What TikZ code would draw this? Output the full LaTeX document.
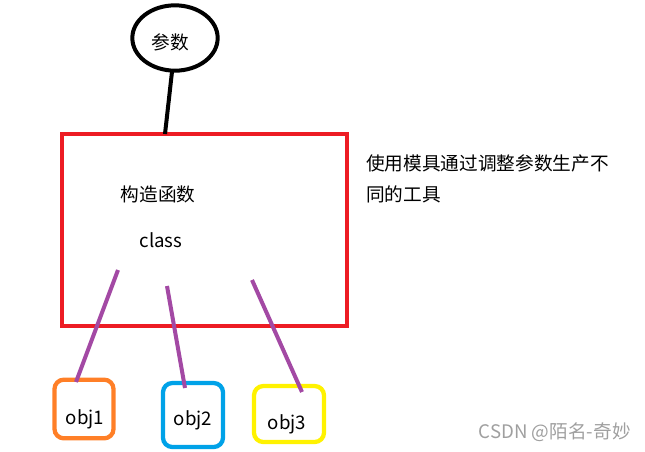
\documentclass[tikz,border=0pt]{standalone}
\usepackage{fontspec}
\setmainfont{Noto Sans CJK SC}
\usetikzlibrary{shapes.geometric}
\definecolor{boxred}{RGB}{237,28,36}
\definecolor{linkpurple}{RGB}{163,73,164}
\definecolor{objorange}{RGB}{255,127,39}
\definecolor{objblue}{RGB}{0,162,232}
\definecolor{objyellow}{RGB}{255,242,0}
\tikzset{
  lbl/.style={font=\fontsize{14pt}{16pt}\selectfont, inner sep=0pt},
  objbox/.style={draw, line width=3.2pt, rounded corners=7pt, inner sep=0pt},
  link/.style={linkpurple, line width=3pt},
}
\begin{document}
\begin{tikzpicture}[x=0.75pt,y=-0.75pt]
\useasboundingbox (0,0) rectangle (645,451);
% parameter ellipse
\node (param) [ellipse, draw, line width=3pt, minimum width=64pt, minimum height=49pt, inner sep=0pt] at (175,38) {};
\node[lbl] (paramtxt) at (170,42) {参数};
% main box
\node (cls) [draw=boxred, line width=3.2pt, minimum width=213.75pt, minimum height=144pt, inner sep=0pt] at (204.5,230) {};
\coordinate (clstop) at (165,134);
\draw[line width=3pt] (param.south) ++(-3,-1) -- (clstop);
\node[lbl] (ctor) at (158,194) {构造函数};
\node[lbl] (classtxt) at (161,240) {class};
% description
\node[lbl, anchor=west] (desc1) at (366,163) {使用模具通过调整参数生产不};
\node[lbl, anchor=west] (desc2) at (366,194) {同的工具};
% objects
\node (o1) [objbox, draw=objorange, minimum width=44.25pt, minimum height=44pt] at (84,409) {};
\node (o2) [objbox, draw=objblue, minimum width=45pt, minimum height=48pt] at (193,415) {};
\node (o3) [objbox, draw=objyellow, minimum width=52.5pt, minimum height=42pt] at (289,414) {};
\node[lbl] (o1t) at (85,419) {obj1};
\node[lbl] (o2t) at (193,420) {obj2};
\node[lbl] (o3t) at (287,424) {obj3};
% links
\coordinate (l1s) at (118,270);
\coordinate (l2s) at (167,286);
\coordinate (l3s) at (252,280);
\draw[link] (l1s) -- (76,382);
\draw[link] (l2s) -- (185,388);
\draw[link] (l3s) -- (302,392);
% watermark
\node[font=\fontsize{14pt}{16pt}\selectfont, text=gray!75, anchor=east, inner sep=0pt] (wm) at (631,432) {CSDN @陌名-奇妙};
\end{tikzpicture}
\end{document}
